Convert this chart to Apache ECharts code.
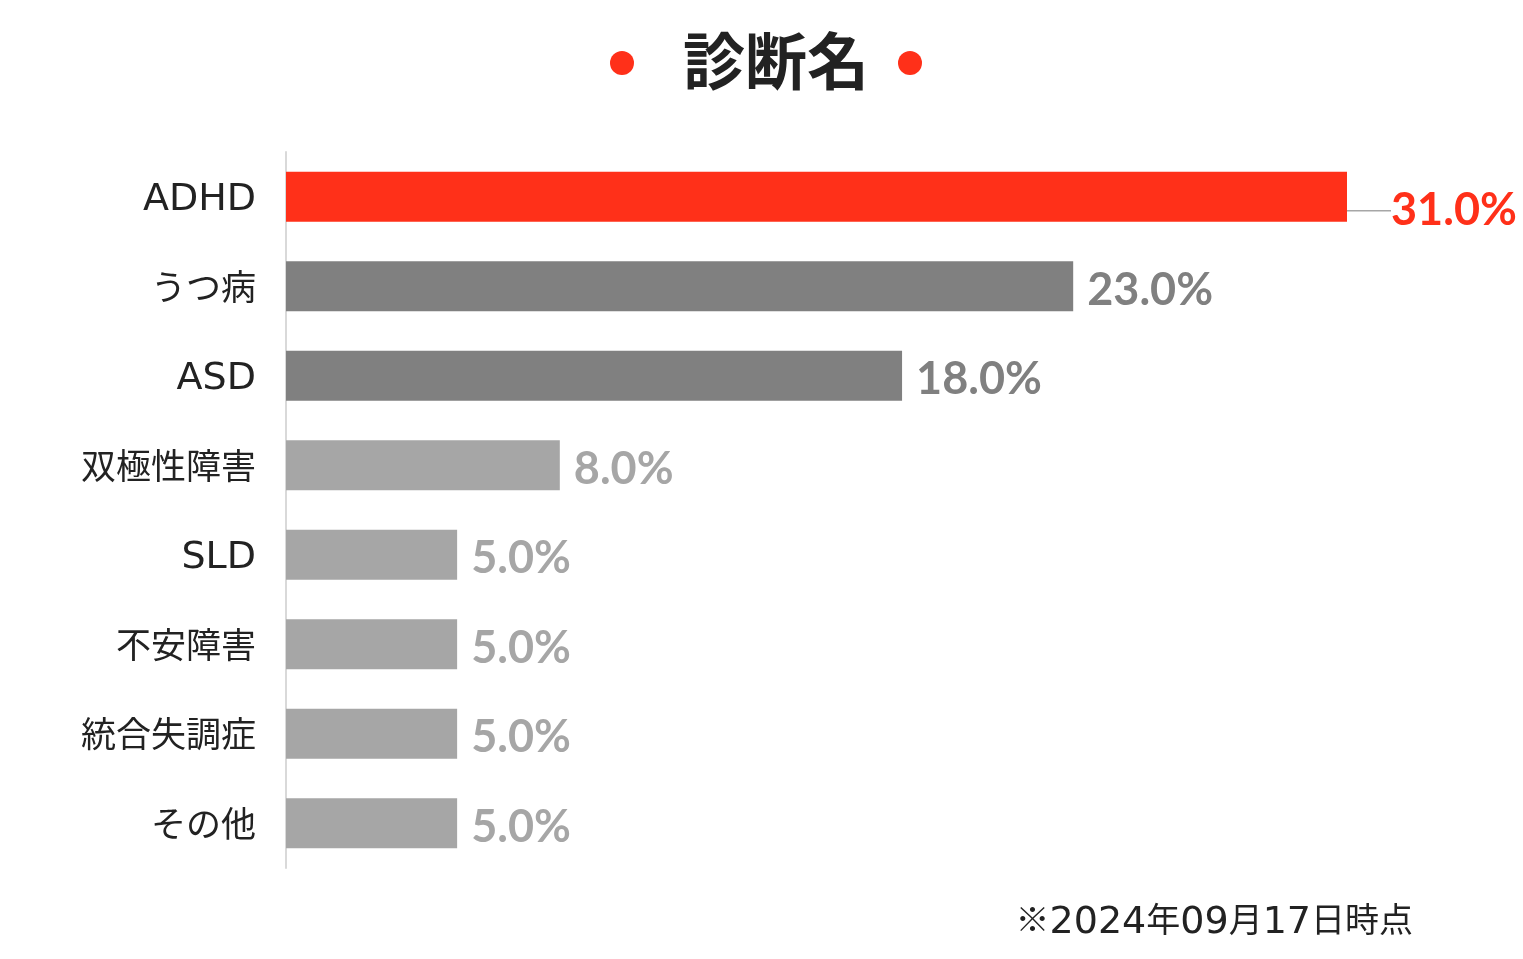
<!DOCTYPE html>
<html><head><meta charset="utf-8">
<script src="https://cdn.jsdelivr.net/npm/echarts@6/dist/echarts.min.js"></script>
<style>html,body{margin:0;padding:0;background:#fff}#c{width:1523px;height:959px}</style>
</head><body><div id="c"></div>
<script>
const categories = ['ADHD','うつ病','ASD','双極性障害','SLD','不安障害','統合失調症','その他'];
const values = [31.0, 23.0, 18.0, 8.0, 5.0, 5.0, 5.0, 5.0];
const titleText = '診断名';
const noteText = '※2024年09月17日時点';

const RED = '#ff3019', DARK = '#808080', LIGHT = '#a6a6a6';
const CJK = '"Noto Sans CJK JP", sans-serif';
const LAT = '"DejaVu Sans", sans-serif';
function colorFor(i){ return i === 0 ? RED : (i < 3 ? DARK : LIGHT); }
function richify(s){
  return s.replace(/[A-Za-z0-9]+|[^A-Za-z0-9]+/g, m => /[A-Za-z0-9]/.test(m) ? '{l|' + m + '}' : '{c|' + m + '}');
}

const chart = echarts.init(document.getElementById('c'));
const seriesData = values.map((v, i) => {
  const item = { value: v, itemStyle: { color: colorFor(i) }, label: { color: colorFor(i) } };
  if (i === 0) {
    item.labelLine = { show: true, length2: 8, lineStyle: { color: '#a6a6a6', width: 1.5 } };
  }
  return item;
});
chart.setOption({
  animation: false,
  textStyle: { fontFamily: CJK },
  graphic: [
    { type: 'circle', shape: { cx: 622, cy: 63, r: 12 }, style: { fill: RED } },
    { type: 'circle', shape: { cx: 910, cy: 63, r: 12 }, style: { fill: RED } },
    { type: 'text', left: 683, top: 30, style: { text: titleText, fontSize: 62, fontWeight: 'bold', fill: '#222', fontFamily: CJK } },
    { type: 'text', right: 110, top: 896, style: {
      text: richify(noteText), fill: '#222',
      rich: {
        l: { fontSize: 38, fontFamily: LAT, fill: '#222', lineHeight: 46, padding: [8, 0, 0, 0] },
        c: { fontSize: 34, fontFamily: CJK, fill: '#222', lineHeight: 46 }
      }
    } }
  ],
  grid: { left: 286, top: 152, width: 1061, height: 716, containLabel: false },
  xAxis: { type: 'value', min: 0, max: 31, show: false },
  yAxis: {
    type: 'category', data: categories, inverse: true,
    axisLine: { show: true, lineStyle: { color: '#d9d9d9', width: 2 } },
    axisTick: { show: false },
    axisLabel: {
      margin: 30, color: '#222',
      formatter: v => /^[A-Za-z0-9]+$/.test(v) ? '{l|' + v + '}' : '{c|' + v + '}',
      rich: {
        l: { fontSize: 38, fontFamily: LAT, color: '#222', lineHeight: 46, padding: [7, 0, 0, 0] },
        c: { fontSize: 35, fontFamily: CJK, color: '#222', lineHeight: 46 }
      }
    }
  },
  series: [{
    type: 'bar', data: seriesData, barWidth: 50,
    label: {
      show: true, position: 'right', distance: 14,
      fontSize: 45, fontWeight: 'bold', fontFamily: 'Lato, sans-serif',
      formatter: p => p.value.toFixed(1) + '%'
    },
    labelLayout: function (params) {
      if (params.dataIndex === 0) {
        return { dx: 30, dy: 14 };
      }
      return { dy: 4 };
    },
    labelLine: { show: false }
  }]
});
</script></body></html>
